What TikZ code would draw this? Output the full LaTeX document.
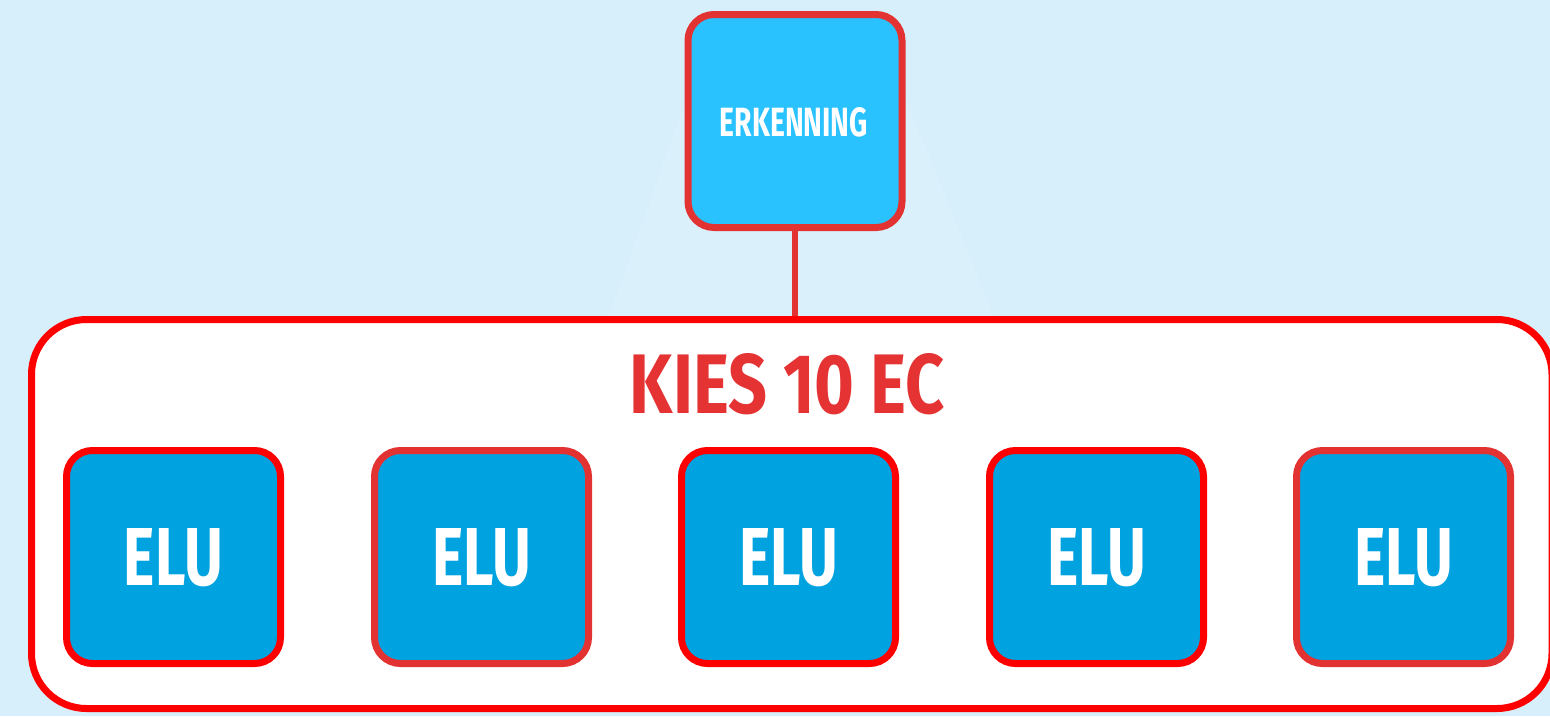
\documentclass[tikz,border=0pt]{standalone}
\usepackage{fontspec}
\setmainfont{Fira Sans}
\usepackage{graphicx}
\definecolor{bgblue}{HTML}{D7EFFA}
\definecolor{glow}{HTML}{DAF0FA}
\definecolor{topfill}{HTML}{29C2FF}
\definecolor{elufill}{HTML}{00A2E0}
\definecolor{redA}{HTML}{FF0000}
\definecolor{redB}{HTML}{E33232}
\definecolor{titlered}{HTML}{E53333}
\tikzset{
  pbox/.style={draw, line width=7pt, rounded corners=26pt, minimum width=214pt, minimum height=213pt, inner sep=0pt},
  elubox/.style={pbox, fill=elufill},
  lbl/.style={inner sep=0pt, anchor=south},
}
\newcommand{\lbltext}[3]{\resizebox{#1pt}{#2pt}{\bfseries #3}}
\begin{document}
\begin{tikzpicture}[x=1pt,y=-1pt]
\useasboundingbox (0,0) rectangle (1550,716);
\fill[bgblue] (0,0) rectangle (1550,716);
\fill[glow] (700,60) -- (890,60) -- (995,318) -- (608,318) -- cycle;
% group container
\begin{scope}
\clip (0,0) rectangle (1550,716);
\node[draw=redA, line width=7pt, fill=white, rounded corners=55pt, minimum width=1520.5pt, minimum height=389pt, inner sep=0pt] (group) at (791.75,514) {};
\end{scope}
% top box
\node[pbox, draw=redB, fill=topfill] (erk) at (795,121) {};
\node[lbl, text=white] (erkt) at (794,137) {\lbltext{148}{29}{ERKENNING}};
\draw[redB, line width=6pt] (erk.south) -- (erk.south |- group.north);
% title
\node[lbl, text=titlered] (title) at (787.5,415) {\lbltext{315}{60}{KIES 10 EC}};
% ELU boxes
\node[elubox, draw=redA] (e1) at (173.5,557) {};
\node[elubox, draw=redB] (e2) at (481.5,557) {};
\node[elubox, draw=redA] (e3) at (788.5,557) {};
\node[elubox, draw=redA] (e4) at (1096.5,557) {};
\node[elubox, draw=redB] (e5) at (1403.5,557) {};
\foreach \n in {e1,e2,e3,e4,e5}{
  \node[lbl, text=white] at ([yshift=-30pt]\n.center) {\lbltext{99}{57}{ELU}};
}
\end{tikzpicture}
\end{document}
